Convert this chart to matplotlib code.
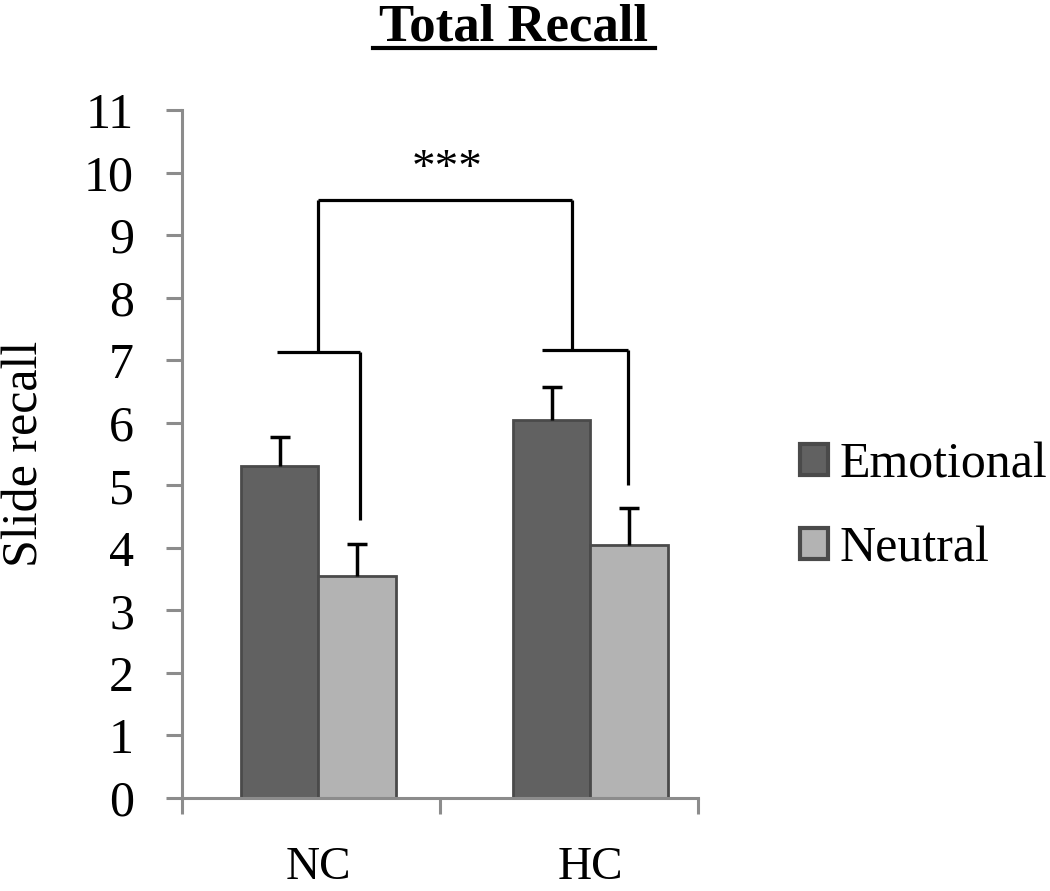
import matplotlib.pyplot as plt
import numpy as np

groups = ["NC", "HC"]
conditions = ["Emotional", "Neutral"]
emotional = [5.31, 6.05]
neutral = [3.55, 4.05]
emotional_err = [0.46, 0.52]
neutral_err = [0.51, 0.58]

plt.rcParams['font.family'] = ['Liberation Serif', 'DejaVu Serif']

fig = plt.figure(figsize=(10.5, 8.91), dpi=100)
ax = fig.add_axes([0.1733, 0.1044, 0.4915, 0.7721])

grey = "#8c8c8c"
edge = "#4a4a4a"
width = 0.30
# left edge of each bar pair within its category
starts = np.array([0.229, 1.283])

ax.bar(starts, emotional, width, align='edge', color="#616161",
       edgecolor=edge, linewidth=2, label=conditions[0], zorder=2)
ax.bar(starts + width, neutral, width, align='edge', color="#b3b3b3",
       edgecolor=edge, linewidth=2, label=conditions[1], zorder=2)

# upper-only error bars
for xs, ys, err in [(starts + width / 2, emotional, emotional_err),
                    (starts + 1.5 * width, neutral, neutral_err)]:
    eb = ax.errorbar(xs, ys, yerr=[np.zeros(2), err], fmt='none', ecolor='black',
                     elinewidth=2.5, capsize=7.5, capthick=2.5, zorder=3)
    eb[1][0].set_visible(False)

# significance brackets
lk = dict(color='black', lw=2.3, solid_capstyle='butt', zorder=4)
ax.plot([0.368, 0.69], [7.13, 7.13], **lk)
ax.plot([0.69, 0.69], [7.13, 4.44], **lk)
ax.plot([1.395, 1.729], [7.16, 7.16], **lk)
ax.plot([1.729, 1.729], [7.16, 5.0], **lk)
ax.plot([0.527, 0.527], [7.13, 9.56], **lk)
ax.plot([1.512, 1.512], [7.16, 9.56], **lk)
ax.plot([0.527, 1.512], [9.56, 9.56], **lk)
ax.text(1.027, 10.05, "***", ha='center', va='center', fontsize=34)

ax.set_xlim(0, 2)
ax.set_ylim(0, 11)
ax.set_yticks(range(0, 12))
ax.set_xticks([0, 1, 2])
ax.set_xticklabels([])
ax.tick_params(axis='x', length=11.5, width=2.2, color=grey, direction='out')
ax.tick_params(axis='y', length=11.5, width=2.2, color=grey, labelsize=36, pad=23)

# group labels under each bar pair
for s, g in zip(starts + width, groups):
    ax.text(s, -0.78, g, ha='center', va='top', fontsize=34)

for s in ['top', 'right']:
    ax.spines[s].set_visible(False)
for s in ['left', 'bottom']:
    ax.spines[s].set_color(grey)
    ax.spines[s].set_linewidth(2.2)

fig.text(0.002, 0.4905, "Slide recall", rotation=90, ha='left', va='center',
         fontsize=36)

fig.text(0.4886, 0.955, "Total Recall", ha='center', va='baseline',
         fontsize=38, fontweight='bold')
fig.add_artist(plt.Line2D([373 / 1050, 655 / 1050], [0.946, 0.946],
                          transform=fig.transFigure, color='black', lw=3))

leg = fig.legend(loc='center left', bbox_to_anchor=(0.7615, 0.431), frameon=False,
                 fontsize=36, handlelength=0.56, handleheight=0.56,
                 handletextpad=0.24, labelspacing=0.75, borderpad=0,
                 borderaxespad=0)
for h in leg.legend_handles:
    h.set_linewidth(3)

fig.savefig("out.png", dpi=100)
